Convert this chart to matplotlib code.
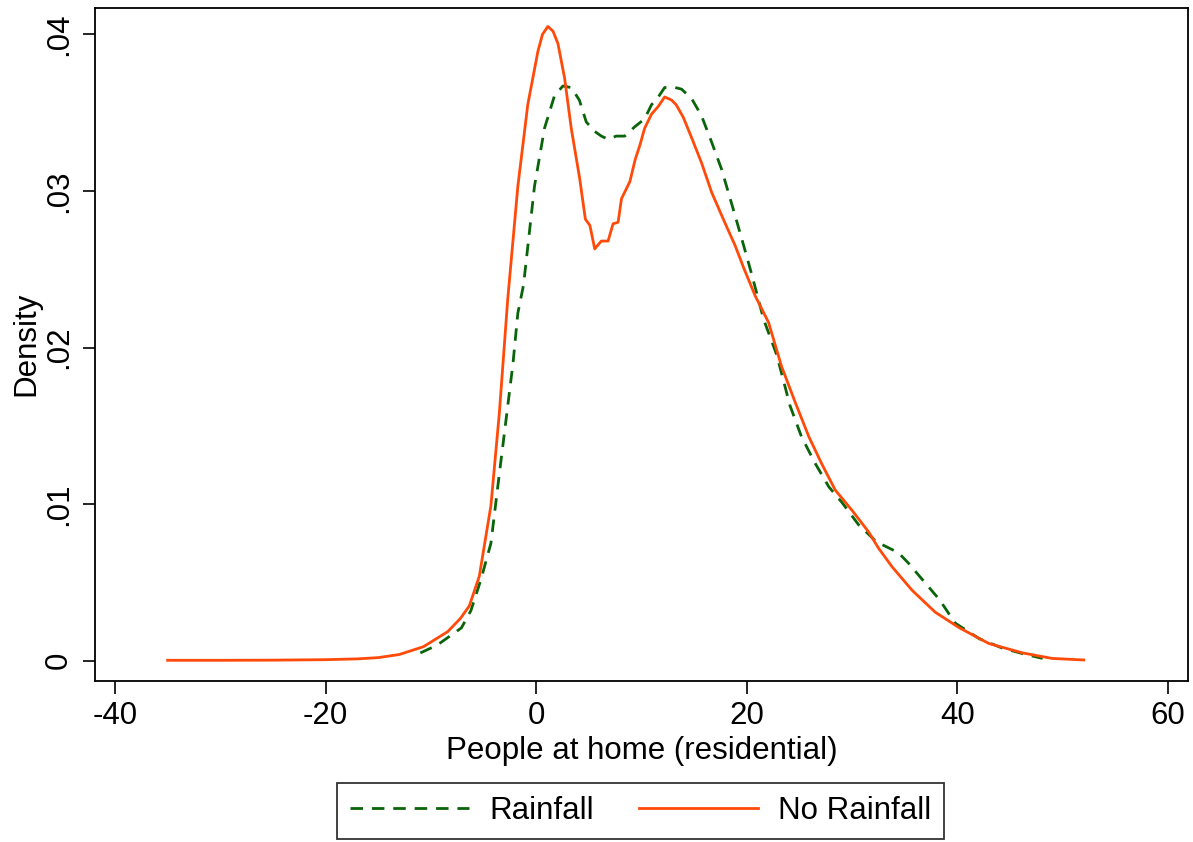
import matplotlib
matplotlib.use("Agg")
import matplotlib.pyplot as plt

plt.rcParams['font.family'] = ['Liberation Sans', 'DejaVu Sans']

# No Rainfall (solid orange)
norain_x = [-35, -30, -25, -20, -17, -15, -13, -10.7, -8.4, -7.2, -6.35, -5.4, -4.3, -3.5,
            -2.7, -1.74, -0.8, 0.16, 0.6, 1.11, 1.6, 2.07, 2.7, 3.33, 4.13, 4.67, 5.1, 5.56,
            6.19, 6.83, 7.3, 7.78, 8.1, 8.9, 9.4, 9.84, 10.3, 10.95, 11.6, 12.2, 12.86, 13.3,
            13.97, 14.76, 15.7, 16.67, 17.9, 18.9, 19.7, 20.8, 22.07, 23.3, 24.6, 25.9, 27.1,
            28.4, 30.0, 31.6, 32.5, 33.8, 35.7, 37.9, 40.2, 43.0, 46.2, 49.0, 52.0]
norain_y = [0.00003, 0.00003, 0.00004, 0.00007, 0.00012, 0.0002, 0.0004, 0.0009, 0.00186, 0.0027,
            0.0035, 0.0054, 0.0099, 0.0158, 0.0231, 0.0303, 0.0355, 0.0389, 0.0400, 0.0405,
            0.0402, 0.0394, 0.0372, 0.0340, 0.0308, 0.0282, 0.0278, 0.0263, 0.0268, 0.0268,
            0.0279, 0.0280, 0.0295, 0.0306, 0.0320, 0.0329, 0.0340, 0.0349, 0.0354, 0.0360,
            0.0358, 0.0355, 0.0347, 0.0334, 0.0318, 0.0299, 0.0280, 0.0265, 0.0251, 0.0233,
            0.0216, 0.0188, 0.0165, 0.0143, 0.0126, 0.0109, 0.0096, 0.0082, 0.0072, 0.0060,
            0.0045, 0.0031, 0.0021, 0.0011, 0.0005, 0.00015, 0.00005]

# Rainfall (dashed green)
rain_x = [-11.0, -9.4, -7.1, -6.2, -5.24, -4.3, -3.65, -2.86, -2.2, -1.74, -1.2, -0.16, 0.79,
          1.75, 2.54, 3.33, 4.1, 4.76, 5.56, 6.19, 6.83, 7.6, 8.4, 9.37, 10.3, 10.95, 11.6,
          12.2, 13.2, 13.8, 14.76, 15.7, 16.67, 17.6, 18.6, 19.5, 20.5, 21.6, 22.86, 24.1,
          25.2, 26.5, 27.8, 29.05, 30.6, 32.3, 33.8, 34.4, 35.4, 36.4, 38.3, 39.8, 42.1,
          44.3, 46.5, 48.1]
rain_y = [0.0005, 0.0010, 0.0021, 0.0032, 0.0052, 0.0075, 0.0111, 0.0154, 0.0190, 0.0222,
          0.0240, 0.0303, 0.0340, 0.0361, 0.0367, 0.0366, 0.0358, 0.0344, 0.0338, 0.0335,
          0.0333, 0.0335, 0.0335, 0.0341, 0.0346, 0.0355, 0.0360, 0.0366, 0.0366, 0.0365,
          0.0359, 0.0348, 0.0331, 0.0314, 0.0291, 0.0270, 0.0246, 0.0218, 0.0195, 0.0163,
          0.0143, 0.0126, 0.0111, 0.0101, 0.0087, 0.0076, 0.0071, 0.0069, 0.0062, 0.0054,
          0.0039, 0.0024, 0.0014, 0.0008, 0.0004, 0.00015]

xticks = [-40, -20, 0, 20, 40, 60]
yticks = [0, 0.01, 0.02, 0.03, 0.04]
ytick_labels = ["0", ".01", ".02", ".03", ".04"]

FS = 22.5

fig = plt.figure(figsize=(11.93, 8.42), dpi=100)
ax = fig.add_axes([0.0796, 0.1918, 0.9162, 0.7987])

green = '#0a640a'
orange = '#ff4a0a'
ax.plot(rain_x, rain_y, color=green, lw=2.0, dashes=(4.5, 3.2), label='Rainfall')
ax.plot(norain_x, norain_y, color=orange, lw=2.0, label='No Rainfall')

ax.set_xlim(-41.9, 61.9)
ax.set_ylim(-0.00126, 0.04168)
ax.set_xticks(xticks)
ax.set_xticklabels([str(t) for t in xticks])
ax.set_yticks(yticks)
ax.set_yticklabels(ytick_labels, rotation=90, va='center')
ax.tick_params(axis='both', direction='out', length=9, width=1.2, labelsize=FS, pad=6)
for s in ax.spines.values():
    s.set_linewidth(1.3)
ax.set_xlabel('People at home (residential)', fontsize=FS, labelpad=3)
ax.set_ylabel('Density', fontsize=FS, labelpad=2)

leg = fig.legend(loc='lower center', ncol=2, bbox_to_anchor=(0.537, 0.003),
                 fontsize=FS, frameon=True, fancybox=False, edgecolor='black',
                 handlelength=3.8, columnspacing=1.45, handletextpad=0.65,
                 borderpad=0.42, borderaxespad=0.0)
leg.get_frame().set_linewidth(1.3)

fig.savefig('out.png', dpi=100, facecolor='white')
